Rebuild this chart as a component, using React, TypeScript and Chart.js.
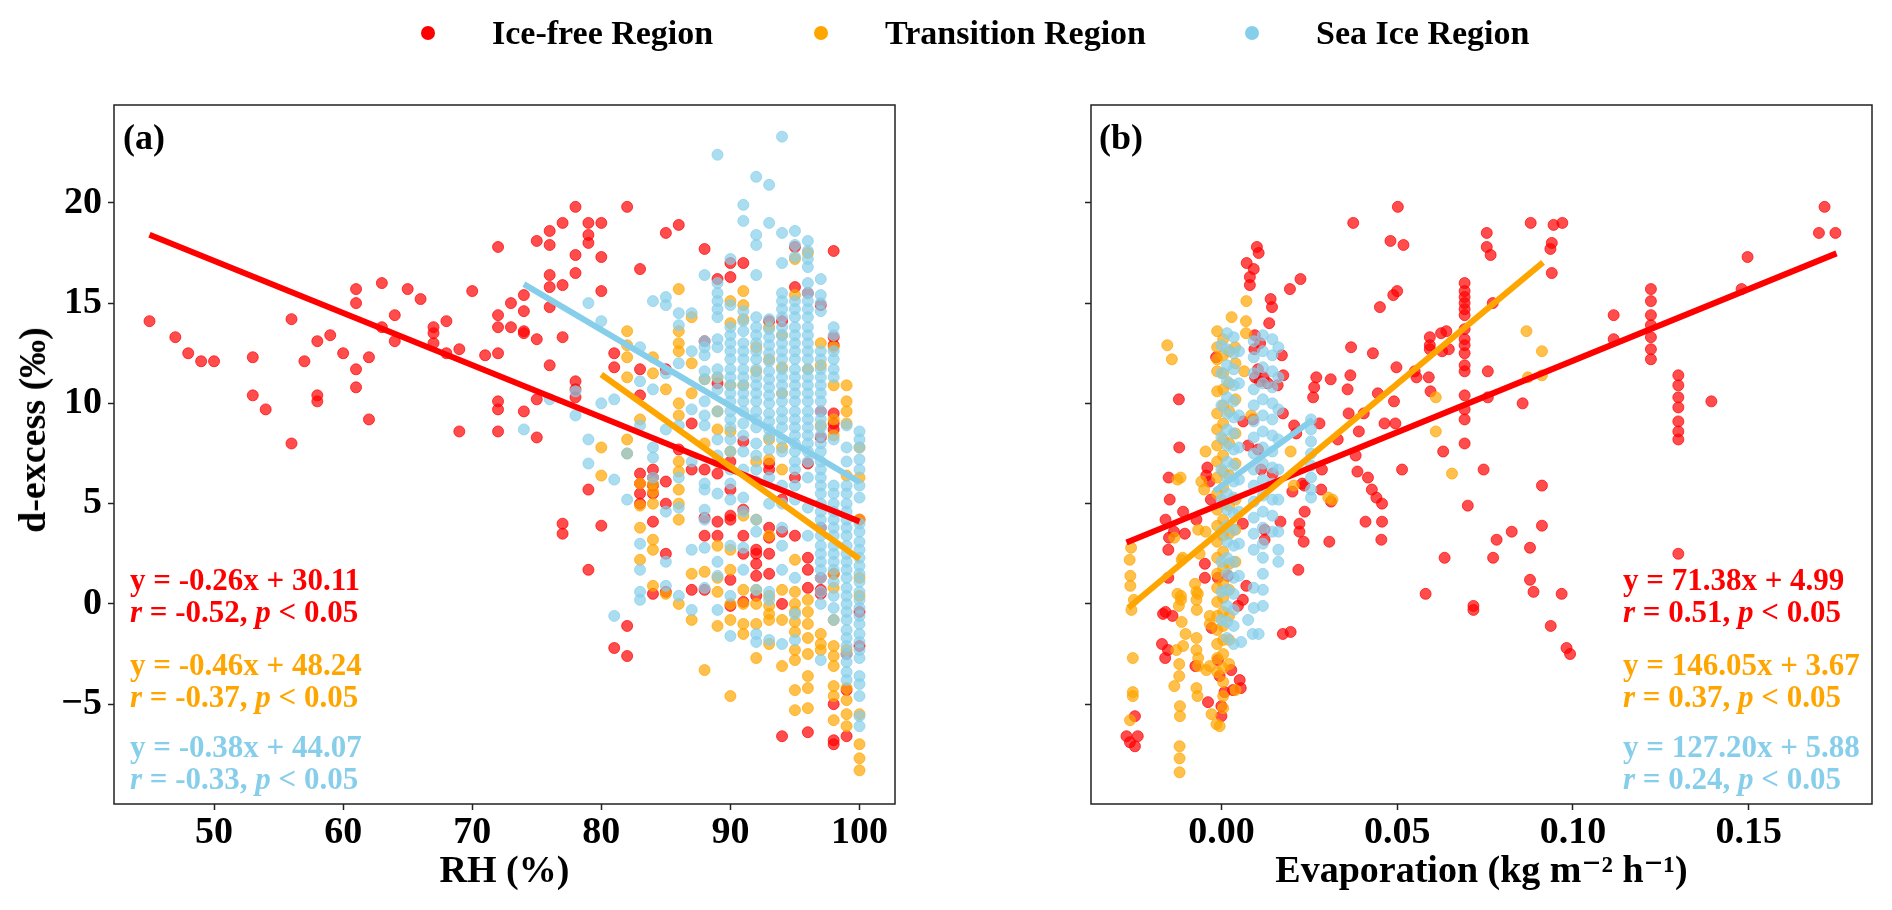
import { useEffect, useRef } from 'react'
import Chart from 'chart.js/auto'

const FONT = "'Liberation Serif', 'Times New Roman', Times, 'DejaVu Serif', serif"

const regions = ['Ice-free Region', 'Transition Region', 'Sea Ice Region']
const regionColors = ['#ff0000', '#ffa500', '#87ceeb']
const regionFills = ['rgba(255,0,0,0.7)', 'rgba(255,165,0,0.7)', 'rgba(135,206,235,0.7)']

// shared y axis (d-excess)
const dxsTicks = [-5, 0, 5, 10, 15, 20]
const dxsRange = [-9.98, 24.88]

// panel (a): RH
const rhTicks = [50, 60, 70, 80, 90, 100]
const rhRange = [42.25, 102.75]

// panel (b): evaporation
const evapTicks = [0, 0.05, 0.1, 0.15]
const evapRange = [-0.0371, 0.1851]

// (a) d-excess grouped by RH value: [RH, [d-excess...]]
const rhIceFree: [number, number[]][] = [
  [45, [14.1]], [47, [13.3]], [48, [12.5]], [49, [12.1]], [50, [12.1]],
  [53, [12.3, 10.4]], [54, [9.7]], [56, [14.2, 8.0]], [57, [12.1]], [58, [13.1, 10.4, 10.1]],
  [59, [13.4]], [60, [12.5]], [61, [15.7, 15.0, 11.7, 10.8]], [62, [12.3, 9.2]], [63, [16.0, 13.8]],
  [64, [14.4, 13.1]], [65, [15.7]], [66, [15.2]], [67, [13.8, 13.5, 13.0]], [68, [14.1, 12.5]],
  [69, [12.7, 8.6]], [70, [15.6]], [71, [12.4]], [72, [17.8, 14.4, 13.8, 12.5, 10.1, 9.7, 8.6]],
  [73, [15.0, 13.8]], [74, [15.4, 14.6, 13.6, 13.5, 9.6]], [75, [18.1, 13.2, 10.2, 8.3]],
  [76, [18.6, 17.9, 16.4, 15.8, 14.8, 11.9]], [77, [19.0, 15.9, 13.3, 4.0, 3.5]],
  [78, [19.8, 17.4, 16.5, 11.1, 10.7, 10.3]], [79, [19.0, 18.4, 18.0, 5.7, 1.7]],
  [80, [19.0, 17.3, 15.6, 3.9]], [81, [12.5, 11.8, -2.2]], [82, [19.8, -1.1, -2.6]],
  [83, [16.7, 11.7, 10.4, 6.5, 6.0, 5.5, 5.0]], [84, [6.7, 6.3, 5.9, 5.5, 4.1, 0.5]],
  [85, [18.5, 11.7, 6.1, 5.0, 2.5, 0.6]], [86, [18.9, 7.7]], [87, [9.0, 6.7, 0.7]],
  [88, [17.7, 13.1, 6.7, 4.3, 3.4, 0.7]], [89, [16.2, 11.0, 6.5, 4.1, 3.4]],
  [90, [17.0, 16.3, 7.1, 5.7, 4.4, 4.2, 1.2, -0.1]], [91, [17.0, 8.1, 4.7, 3.4, 2.5, 0.1]],
  [92, [2.7, 2.5, 2.0, 1.4, 0.4]], [93, [14.1, 7.0, 6.7, 3.8, 3.3, 2.5, 1.5]],
  [94, [14.1, 5.2, 3.6, 0.0, -6.6]], [95, [17.8, 15.8, 6.3, 3.4]],
  [96, [15.5, 7.0, 2.3, 1.7, 0.8, -6.4]], [97, [14.9, 9.6, 8.3, 3.8, 1.3, 0.7, 0.5]],
  [98, [17.6, 13.3, 12.9, 9.5, 9.0, 8.7, 1.5, -5.0, -6.8, -7.0]], [99, [-2.5, -4.3, -6.6]],
  [100, [4.2, -0.4, -2.1]],
]

const rhTransition: [number, number[]][] = [
  [80, [7.8, 6.4]], [82, [13.6, 12.9, 12.3, 11.3, 8.2, 7.5]], [83, [9.2, 6.0, 4.9, 3.8, 2.2]],
  [84, [12.3, 11.5, 6.0, 5.6, 5.0, 3.2, 2.7, 0.9]], [85, [10.7, 0.5]],
  [86, [15.7, 13.6, 13.0, 12.6, 10.0, 9.4, 7.1, 6.6, 5.7, 5.0, 4.2, 0.0]],
  [87, [14.3, 12.0, 10.5, 1.5, -0.8]], [88, [11.2, 8.0, 1.6, -3.3]],
  [89, [11.3, 9.6, 8.7, 7.1, 2.9, 1.3, 0.6, -1.1]],
  [90, [15.1, 14.0, 10.9, 8.6, 7.6, 2.7, 1.7, 0.0, -0.8, -4.6]],
  [91, [15.6, 14.9, 14.2, 10.9, 4.4, 0.7, 0.0, -1.0, -1.5]],
  [92, [12.8, 11.6, 7.1, 4.2, 0.7, 0.0, -1.0, -2.7]],
  [93, [13.8, 12.2, 8.2, 7.2, 3.4, 0.4, -0.1, -0.5, -0.8, -2.0]],
  [94, [13.4, 11.8, 10.5, 7.8, 6.7, 0.7, -0.8, -3.1]],
  [95, [17.2, 15.4, 2.2, 0.6, 0.0, -0.4, -0.9, -1.4, -2.3, -2.8, -4.3, -5.3]],
  [96, [17.5, 11.7, 0.2, -0.4, -1.0, -1.7, -2.5, -3.6, -4.2, -5.2]],
  [97, [13.0, 11.9, 8.9, -1.5, -2.0, -2.3]],
  [98, [12.8, 10.9, 9.2, 8.4, 1.5, 0.8, -0.8, -2.1, -2.6, -3.1, -4.1, -4.6, -5.8]],
  [99, [10.9, 10.1, 9.6, 9.0, 6.4, -2.3, -4.2, -4.8, -5.5, -6.1]],
  [100, [7.8, 6.3, 4.2, 1.3, 0.4, -5.5, -7.0, -7.7, -8.3]],
]

const rhSeaIce: [number, number[]][] = [
  [74, [8.7]], [76, [10.2]], [78, [10.6, 9.4]], [79, [15.0, 8.2, 7.0]], [80, [14.1, 10.0]],
  [81, [10.2, 6.2, -0.6]], [82, [7.5, 5.2]], [83, [12.8, 11.1, 8.9, 3.0, 1.7, 0.6, 0.2]],
  [84, [15.1, 10.7, 7.8, 7.3, 6.3]], [85, [15.3, 14.9, 11.5, 8.7, 4.6, 2.1, 0.9]],
  [86, [14.5, 13.9, 12.0, 8.9, 6.3, 4.8, 0.4]], [87, [14.5, 12.6, 9.7, 7.1, 2.7, -0.3]],
  [88, [16.4, 13.1, 12.8, 12.4, 11.6, 11.2, 10.1, 9.4, 8.9, 6.0, 5.7, 4.7, 4.2, 2.8, 0.8]],
  [89, [22.4, 16.0, 15.5, 15.1, 14.7, 14.3, 13.2, 12.8, 11.7, 11.3, 10.7, 9.6, 8.2, 7.4, 5.5, 2.1, 1.4, -0.3]],
  [90, [17.2, 14.9, 13.8, 13.4, 13.0, 12.6, 12.2, 11.7, 11.3, 10.9, 10.5, 10.1, 9.6, 9.2, 8.8, 8.2, 7.6, 6.7, 6.0, 5.2, 2.9, 0.4, -1.6]],
  [91, [19.9, 19.1, 14.6, 14.1, 13.6, 13.0, 12.6, 12.2, 11.7, 11.3, 10.9, 10.5, 10.1, 9.6, 9.0, 8.4, 7.6, 6.7, 5.3, 4.6, 2.8, 1.7]],
  [92, [21.3, 18.4, 17.9, 16.4, 14.3, 13.8, 13.4, 13.0, 12.6, 12.2, 11.7, 11.3, 10.9, 10.5, 10.1, 9.6, 9.2, 8.8, 8.0, 7.4, 6.7, 6.1, 4.2, 3.6, 0.7, -1.5, -1.9]],
  [93, [20.9, 19.0, 14.2, 13.7, 13.3, 12.9, 12.5, 12.1, 11.6, 11.2, 10.8, 10.4, 10.0, 9.5, 9.1, 8.7, 8.3, 7.7, 6.3, 5.0, 0.6, 0.2, -1.8]],
  [94, [23.3, 18.5, 17.0, 15.5, 15.1, 14.7, 14.3, 13.8, 13.4, 13.0, 12.6, 12.2, 11.7, 11.3, 10.9, 10.5, 10.1, 9.6, 9.2, 8.8, 8.2, 7.6, 5.9, 5.0, 3.8, 2.9, 1.7, -2.0]],
  [95, [18.6, 17.9, 17.3, 15.1, 14.7, 14.3, 13.8, 13.4, 13.0, 12.6, 12.2, 11.7, 11.3, 10.9, 10.5, 10.1, 9.6, 9.2, 8.8, 8.4, 8.0, 7.6, 7.1, 6.7, 5.9, 5.2, 1.3, -0.5, -1.8]],
  [96, [18.1, 17.6, 17.2, 16.8, 16.0, 15.5, 15.1, 14.7, 14.3, 13.8, 13.4, 13.0, 12.6, 12.2, 11.7, 11.3, 10.9, 10.5, 10.1, 9.6, 9.2, 8.8, 8.4, 8.0, 7.6, 7.1, 6.3, 4.8, 3.4]],
  [97, [16.2, 15.4, 15.0, 14.6, 12.6, 12.2, 11.7, 11.3, 10.9, 10.5, 10.1, 9.6, 9.2, 8.8, 8.4, 8.0, 7.6, 7.1, 6.7, 6.3, 5.9, 5.5, 5.0, 4.6, 4.2, 3.8, 3.4, 2.9, 2.5, 2.1, 1.7, 1.3, 0.6, 0.0, -2.8]],
  [98, [13.8, 13.4, 12.6, 12.2, 11.7, 11.3, 8.2, 5.9, 5.5, 5.0, 4.6, 4.2, 3.8, 3.4, 2.9, 2.5, 2.1, 1.7, 1.1, 0.4, -0.2, -0.8]],
  [99, [8.9, 7.8, 7.1, 5.9, 5.5, 5.0, 4.6, 4.2, 3.8, 3.4, 2.9, 2.5, 2.1, 1.7, 1.3, 0.8, 0.4, 0.0, -0.4, -0.8, -1.3, -1.7, -2.1, -2.5, -2.9, -3.4, -3.8]],
  [100, [8.6, 8.2, 7.8, 7.2, 6.7, 5.9, 5.3, 4.0, 3.6, 3.1, 2.7, 2.3, 1.9, 1.5, 1.1, 0.6, 0.2, -0.2, -0.6, -1.0, -1.5, -1.9, -2.3, -2.7, -3.6, -4.0, -4.6, -5.6, -6.1]],
]

// (b) d-excess grouped by evaporation value: [evaporation, [d-excess...]]
const evapIceFree: [number, number[]][] = [
  [-0.027, [-6.6]], [-0.026, [-6.9]], [-0.0246, [-5.6, -7.1]], [-0.0238, [-6.6]],
  [-0.0169, [-2.0]], [-0.0166, [-0.5]], [-0.016, [-2.7]], [-0.0159, [4.2, -0.4]], [-0.0152, [-2.3]],
  [-0.0151, [2.7, 1.3]], [-0.015, [6.3]], [-0.0149, [3.3]], [-0.0147, [5.2]], [-0.0139, [-0.6]],
  [-0.0135, [3.6]], [-0.0121, [10.2]], [-0.012, [7.8]], [-0.0109, [4.6]], [-0.0104, [3.5]],
  [-0.0074, [-3.1]], [-0.0071, [4.2]], [-0.0047, [2.0, 1.3]], [-0.0043, [6.4]], [-0.004, [6.8]],
  [-0.0038, [-4.9]], [-0.0034, [6.1]], [-0.003, [5.2]], [-0.0028, [-1.2]], [-0.0015, [12.3]],
  [-0.001, [1.3, -2.8]], [-0.0005, [-3.6]], [0.0, [-5.1, -5.6]], [0.0009, [-4.4]], [0.0019, [1.4]],
  [0.0028, [-3.3]], [0.0033, [-4.3]], [0.0047, [-0.1]], [0.0052, [-3.8]], [0.0055, [-4.2]],
  [0.0061, [4.0, 0.2]], [0.0062, [9.1]], [0.0071, [0.9]], [0.0072, [17.0]], [0.0076, [7.9]],
  [0.0081, [16.3, 15.9]], [0.009, [9.2]], [0.0092, [16.7]], [0.0094, [12.7]], [0.0095, [13.4]],
  [0.0096, [11.3]], [0.0101, [17.8]], [0.0104, [11.7, 7.7]], [0.0106, [17.5]], [0.0109, [11.1]],
  [0.011, [13.0]], [0.0113, [6.7]], [0.012, [11.3]], [0.0123, [3.2, 3.7]], [0.0132, [11.0]],
  [0.0136, [14.0]], [0.014, [15.2]], [0.0144, [14.8]], [0.0146, [6.5]], [0.016, [10.9]],
  [0.0168, [4.1]], [0.0172, [12.4]], [0.0175, [9.5, -1.5]], [0.0176, [11.4]], [0.0195, [15.7]],
  [0.0197, [-1.4]], [0.0202, [5.6]], [0.0207, [8.9]], [0.0213, [8.5]], [0.0219, [1.7]],
  [0.0222, [4.0, 3.6]], [0.0225, [16.2]], [0.023, [6.0]], [0.0234, [3.1]], [0.0236, [5.9]],
  [0.0237, [4.6]], [0.0261, [10.3]], [0.0264, [10.8]], [0.027, [11.3]], [0.0279, [9.0]],
  [0.0284, [5.7]], [0.0286, [6.7]], [0.0307, [3.1]], [0.0311, [11.2]], [0.0312, [5.1]],
  [0.0331, [8.2]], [0.0359, [10.7]], [0.0362, [9.5]], [0.0367, [11.4]], [0.0369, [12.8]],
  [0.0375, [19.0]], [0.0382, [7.4]], [0.0387, [6.6]], [0.0391, [8.6]], [0.0405, [9.5]],
  [0.041, [4.1]], [0.0417, [6.3]], [0.0428, [5.7]], [0.0431, [12.5]], [0.0441, [5.3]],
  [0.0445, [10.5]], [0.0451, [14.8]], [0.0455, [3.2]], [0.0457, [5.0, 4.1]], [0.0464, [9.0]],
  [0.0481, [18.1]], [0.0489, [15.4]], [0.0491, [10.1]], [0.0495, [9.0]], [0.0498, [11.8]],
  [0.05, [15.6]], [0.0502, [19.8]], [0.0514, [6.7]], [0.0518, [17.9]], [0.055, [11.6]],
  [0.0555, [11.3]], [0.0581, [0.5]], [0.059, [11.3]], [0.0593, [13.3, 12.9, 12.7]], [0.0595, [10.6]],
  [0.0625, [13.5]], [0.0628, [12.6]], [0.0631, [7.6]], [0.0635, [2.3]], [0.064, [13.6]],
  [0.0647, [12.7]],
  [0.0692, [16.0, 15.6, 15.3, 15.0, 14.7, 14.4, 13.7, 13.2, 12.9, 12.5, 11.9, 11.6, 10.4, 9.7, 9.2, 8.0]],
  [0.0701, [4.9]], [0.0717, [-0.1, -0.3]], [0.0746, [6.7]], [0.0755, [18.5, 17.8]], [0.0758, [11.6, 10.3]],
  [0.0766, [17.4]], [0.0772, [15.0]], [0.0773, [2.3]], [0.0783, [3.2]], [0.0826, [3.6]],
  [0.0857, [10.0]], [0.0878, [2.8, 1.2]], [0.088, [19.0]], [0.0888, [0.6]], [0.0912, [5.9, 3.9]],
  [0.0936, [17.7]], [0.0937, [-1.1]], [0.094, [18.0, 16.5]], [0.0945, [18.9]], [0.0968, [0.5]],
  [0.097, [19.0]], [0.0982, [-2.2]], [0.0992, [-2.5]], [0.1116, [14.4, 13.2]],
  [0.1222, [15.7, 15.1, 14.4, 13.9, 13.3, 12.7, 12.2]],
  [0.13, [11.4, 10.9, 10.3, 9.8, 9.1, 8.6, 8.2, 2.5]],
  [0.1394, [10.1]], [0.148, [15.7]], [0.1497, [17.3]], [0.17, [18.5]], [0.1716, [19.8]], [0.1747, [18.5]],
]

const evapTransition: [number, number[]][] = [
  [-0.0261, [2.2]], [-0.026, [-5.8]], [-0.0259, [1.4, 0.9]], [-0.0257, [2.8]], [-0.0256, [-0.3]],
  [-0.0252, [-2.7, -4.4, -4.6]], [-0.0249, [0.2]], [-0.0154, [12.9]], [-0.0141, [12.2]],
  [-0.0134, [3.3, -4.1]], [-0.0128, [-2.3]], [-0.0125, [6.2, 0.5]], [-0.0121, [-0.1]],
  [-0.012, [-3.0, -3.6]], [-0.0119, [-7.1, -7.7, -8.4]], [-0.0118, [-5.1, -5.6]], [-0.0116, [6.3]],
  [-0.0115, [0.2, 0.4]], [-0.0113, [2.2, -0.9]], [-0.011, [2.3]], [-0.0109, [-2.1]], [-0.0102, [-1.5]],
  [-0.0075, [1.0]], [-0.0071, [0.6, 0.2, -1.7, -2.3, -4.2]], [-0.007, [-0.3]], [-0.0068, [-4.6]],
  [-0.0067, [0.5]], [-0.0066, [-2.7, -3.1, 3.7]], [-0.0062, [2.5]], [-0.0057, [6.1]], [-0.0049, [5.7]],
  [-0.0045, [7.6, 3.6]], [-0.0043, [-3.3]], [-0.0033, [-3.1, -0.6, -1.0]], [-0.0028, [-5.5]],
  [-0.0014, [-6.0]], [-0.0005, [-6.1]],
  [-0.0012, [13.6, 12.8, 12.2, 11.6, 10.6, 9.5, 8.7, 7.9, 7.1, 6.3, 5.5, 4.7, 3.9, 3.1, 2.3, 1.5, 0.8, 0.1, -0.6, -1.3, -2.0, -2.7, -3.4]],
  [0.0005, [13.2, 12.4, 11.5, 10.7, 9.9, 9.0, 8.2, 7.4, 6.6, 5.8, 5.0, 4.2, 3.4, 2.6, 1.8, 1.0, 0.3, -0.4, -1.1, -1.8, -2.5, -3.2, -3.9, -4.6, -5.2]],
  [0.0022, [12.6, 11.0, 9.6, 8.0, 6.4, 4.9, 3.5, 2.0, 0.7, -0.6, -1.8, -3.0]],
  [0.0029, [14.3]], [0.0039, [12.8]], [0.004, [12.0, 10.2, 8.5, 7.0, 5.2, 3.7, 2.1, -4.3]],
  [0.0065, [11.6]], [0.007, [14.1, 13.5]], [0.0071, [15.1]], [0.0085, [9.4]], [0.0197, [7.6]],
  [0.0206, [5.9]], [0.0304, [5.3]], [0.0316, [5.2]], [0.061, [10.3, 8.6]], [0.0656, [6.5]],
  [0.0868, [13.6]], [0.0872, [11.3]], [0.0912, [12.6, 11.4]],
]

const evapSeaIce: [number, number[]][] = [
  [0.0, [12.9, 11.5, 9.9, 8.3, 6.7, 5.2, 3.6, 2.1, 0.6, -0.8]],
  [0.0016, [13.5, 12.7, 11.9, 11.1, 10.3, 9.5, 8.7, 7.9, 7.1, 6.3, 5.5, 4.7, 3.9, 3.1, 2.3, 1.5, 0.7, -0.1, -0.9, -1.7]],
  [0.0035, [13.3, 12.5, 11.7, 10.9, 10.1, 9.3, 8.5, 7.7, 6.9, 6.1, 5.3, 4.5, 3.7, 2.9, 2.1, 1.3, 0.5, -0.3, -1.1, -2.0]],
  [0.005, [12.6, 11.0, 9.4, 7.8, 6.2, 4.6, 3.0, 1.4]],
  [0.0056, [-1.9]], [0.0076, [-0.8]], [0.0089, [-1.5]],
  [0.0092, [13.1, 12.3, 11.5, 10.7, 9.9, 9.1, 8.3, 7.5, 6.7, 5.9, 5.1, 4.3, 3.5, 2.7, 0.8, -0.2]],
  [0.0106, [-1.5]],
  [0.0118, [13.4, 12.6, 11.8, 11.0, 10.2, 9.4, 8.6, 7.8, 7.0, 6.2, 5.4, 4.6, 3.8, 3.0, 2.3, 1.5, 0.7, -0.1]],
  [0.0145, [13.2, 12.4, 11.6, 10.8, 10.0, 9.2, 8.4, 7.6, 6.8, 6.0, 5.2, 4.4, 3.6]],
  [0.0162, [12.8, 11.3, 9.7, 8.2, 6.7, 5.2, 3.6, 2.7, 2.1]],
  [0.0255, [9.2, 8.7, 8.1, 7.5, 6.9, 6.3, 5.7, 5.3]],
]

// regression fits, in region order
const rhSlopes = [-0.26, -0.46, -0.38]
const rhIntercepts = [30.11, 48.24, 44.07]
const rhR = [-0.52, -0.37, -0.33]
const rhSpans = [[45, 100], [80, 100], [74, 100]]

const evapSlopes = [71.38, 146.05, 127.2]
const evapIntercepts = [4.99, 3.67, 5.88]
const evapR = [0.51, 0.37, 0.24]
const evapSpans = [[-0.027, 0.175], [-0.0265, 0.0915], [-0.002, 0.026]]

const toPoints = (cols: [number, number[]][]) =>
  cols.flatMap(([x, ys]) => ys.map((y) => ({ x, y })))

const fitPoints = (slope: number, intercept: number, span: number[]) =>
  span.map((x) => ({ x, y: slope * x + intercept }))

const fmtDxs = (v: number) => (v < 0 ? '\u2212' + Math.abs(v) : String(v))

const framePlugin = {
  id: 'frame',
  afterDraw(chart: any) {
    const { ctx, chartArea } = chart
    ctx.save()
    ctx.strokeStyle = '#222'
    ctx.lineWidth = 1.5
    ctx.strokeRect(chartArea.left, chartArea.top, chartArea.right - chartArea.left, chartArea.bottom - chartArea.top)
    ctx.restore()
  },
}

type PanelProps = {
  left: number
  width: number
  plotLeft: number
  plotRight: number
  xRange: number[]
  xTicks: number[]
  xDigits: number
  xTitle: string
  yLabels: boolean
  series: [number, number[]][][]
  slopes: number[]
  intercepts: number[]
  spans: number[][]
}

function ScatterPanel(props: PanelProps) {
  const canvasRef = useRef<HTMLCanvasElement | null>(null)
  const chartRef = useRef<Chart | null>(null)

  useEffect(() => {
    if (!canvasRef.current) return
    const { width, plotLeft, plotRight, xRange, xTicks, xDigits, xTitle, yLabels, series, slopes, intercepts, spans } = props

    const tickFont = { family: FONT, size: 38, weight: 'bold' as const }
    const grid = {
      display: true,
      drawOnChartArea: false,
      drawTicks: true,
      tickLength: 6,
      tickWidth: 1.5,
      tickColor: '#222',
    }

    const lines = spans.map((span, i) => ({
      data: fitPoints(slopes[i], intercepts[i], span),
      showLine: true,
      borderColor: regionColors[i],
      borderWidth: 6,
      pointRadius: 0,
      order: 2 - i,
    }))
    const dots = series.map((cols, i) => ({
      data: toPoints(cols),
      backgroundColor: regionFills[i],
      borderColor: regionFills[i],
      borderWidth: 1,
      pointRadius: 5.5,
      order: 5 - i,
    }))

    chartRef.current = new Chart(canvasRef.current, {
      type: 'scatter',
      data: { datasets: [...lines, ...dots] as any },
      options: {
        animation: false,
        responsive: false,
        layout: { padding: { top: 105, right: width - plotRight, bottom: 0, left: 0 } },
        plugins: { legend: { display: false }, tooltip: { enabled: false } },
        scales: {
          x: {
            type: 'linear',
            min: xRange[0],
            max: xRange[1],
            afterFit: (s: any) => {
              s.height = 910 - 804
            },
            afterBuildTicks: (s: any) => {
              s.ticks = xTicks.map((value) => ({ value }))
            },
            ticks: {
              font: tickFont,
              color: '#000',
              padding: 0,
              maxRotation: 0,
              autoSkip: false,
              callback: (v: any) => Number(v).toFixed(xDigits),
            },
            grid,
            border: { display: false },
            title: {
              display: true,
              text: xTitle,
              color: '#000',
              font: { family: FONT, size: 38, weight: 'bold' },
              padding: { top: 0, bottom: 15 },
            },
          },
          y: {
            type: 'linear',
            min: dxsRange[0],
            max: dxsRange[1],
            afterFit: (s: any) => {
              s.width = plotLeft
            },
            afterBuildTicks: (s: any) => {
              s.ticks = dxsTicks.map((value) => ({ value }))
            },
            ticks: {
              display: yLabels,
              font: tickFont,
              color: '#000',
              padding: 6,
              callback: (v: any) => fmtDxs(Number(v)),
            },
            grid,
            border: { display: false },
          },
        },
      } as any,
      plugins: [framePlugin],
    })

    return () => {
      if (chartRef.current) {
        chartRef.current.destroy()
        chartRef.current = null
      }
    }
  }, [])

  return (
    <canvas
      ref={canvasRef}
      width={props.width}
      height={910}
      style={{ position: 'absolute', left: props.left, top: 0, width: props.width, height: 910 }}
    />
  )
}

function FitLabel({ left, top, color, slope, intercept, r }: any) {
  return (
    <div
      style={{
        position: 'absolute',
        left,
        top,
        color,
        fontSize: 31,
        fontWeight: 'bold',
        lineHeight: '32px',
        whiteSpace: 'nowrap',
      }}
    >
      <div>
        y = {slope.toFixed(2)}x + {intercept.toFixed(2)}
      </div>
      <div>
        <i>r</i> = {r.toFixed(2)}, <i>p</i> &lt; 0.05
      </div>
    </div>
  )
}

const legendMarkerX = [428, 821, 1252]
const legendTextX = [492, 885, 1316]
const fitLabelTops = [564, 649, 731]

export default function App() {
  return (
    <div
      style={{
        position: 'fixed',
        left: 0,
        top: 0,
        width: 1892,
        height: 910,
        background: '#fff',
        fontFamily: FONT,
        overflow: 'hidden',
      }}
    >
      <ScatterPanel
        left={0}
        width={940}
        plotLeft={114}
        plotRight={895}
        xRange={rhRange}
        xTicks={rhTicks}
        xDigits={0}
        xTitle="RH (%)"
        yLabels={true}
        series={[rhIceFree, rhTransition, rhSeaIce]}
        slopes={rhSlopes}
        intercepts={rhIntercepts}
        spans={rhSpans}
      />
      <ScatterPanel
        left={940}
        width={952}
        plotLeft={151}
        plotRight={932}
        xRange={evapRange}
        xTicks={evapTicks}
        xDigits={2}
        xTitle={'Evaporation (kg m\u207B\u00B2 h\u207B\u00B9)'}
        yLabels={false}
        series={[evapIceFree, evapTransition, evapSeaIce]}
        slopes={evapSlopes}
        intercepts={evapIntercepts}
        spans={evapSpans}
      />

      {/* legend */}
      {regions.map((name, i) => (
        <div key={name}>
          <div
            style={{
              position: 'absolute',
              left: legendMarkerX[i] - 7,
              top: 26,
              width: 14,
              height: 14,
              borderRadius: '50%',
              background: regionColors[i],
            }}
          />
          <div
            style={{
              position: 'absolute',
              left: legendTextX[i],
              top: 12,
              lineHeight: '42px',
              fontSize: 34,
              fontWeight: 'bold',
              whiteSpace: 'nowrap',
            }}
          >
            {name}
          </div>
        </div>
      ))}

      {/* y axis title */}
      <div
        style={{
          position: 'absolute',
          left: 32,
          top: 430,
          transform: 'translate(-50%, -50%) rotate(-90deg)',
          fontSize: 38,
          fontWeight: 'bold',
          whiteSpace: 'nowrap',
        }}
      >
        d-excess (‰)
      </div>

      {/* panel tags */}
      <div style={{ position: 'absolute', left: 123, top: 115, fontSize: 36, fontWeight: 'bold', lineHeight: '44px' }}>
        (a)
      </div>
      <div style={{ position: 'absolute', left: 1099, top: 115, fontSize: 36, fontWeight: 'bold', lineHeight: '44px' }}>
        (b)
      </div>

      {regions.map((name, i) => (
        <FitLabel
          key={'rh' + name}
          left={130}
          top={fitLabelTops[i]}
          color={regionColors[i]}
          slope={rhSlopes[i]}
          intercept={rhIntercepts[i]}
          r={rhR[i]}
        />
      ))}
      {regions.map((name, i) => (
        <FitLabel
          key={'ev' + name}
          left={1623}
          top={fitLabelTops[i]}
          color={regionColors[i]}
          slope={evapSlopes[i]}
          intercept={evapIntercepts[i]}
          r={evapR[i]}
        />
      ))}
    </div>
  )
}
